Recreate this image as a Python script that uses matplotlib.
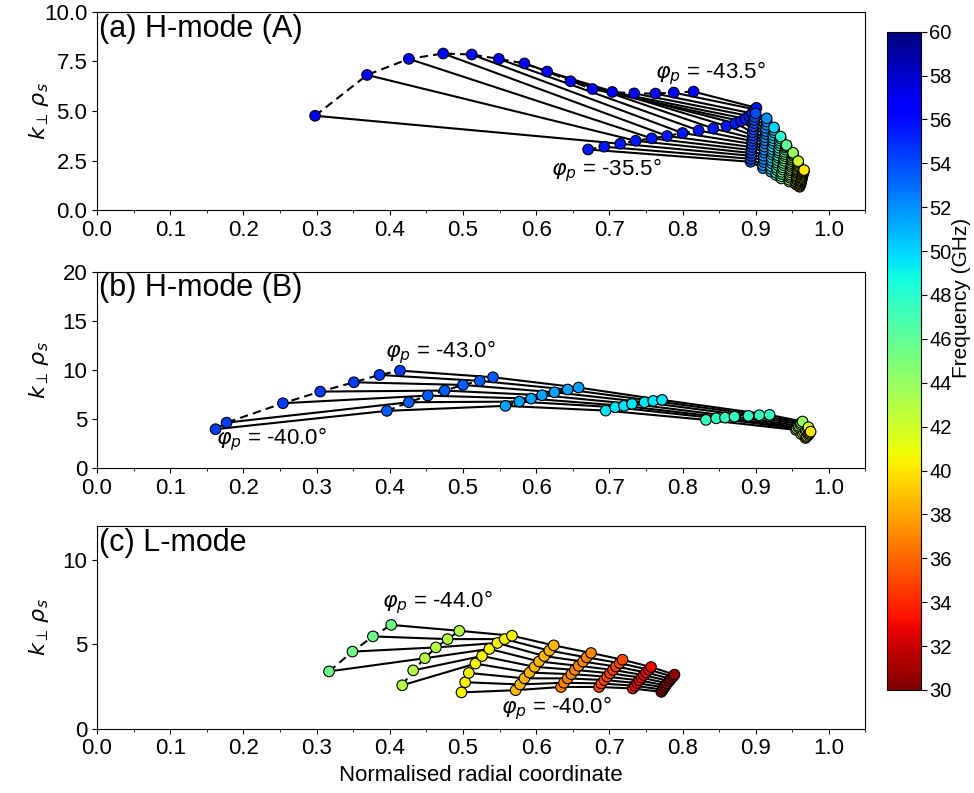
import numpy as np
import matplotlib
matplotlib.use("Agg")
import matplotlib.pyplot as plt
import matplotlib.ticker as ticker
from matplotlib import colors, cm

plt.rcParams.update({
    "font.family": ["Liberation Sans", "DejaVu Sans"],
    "font.size": 16,
    "mathtext.fontset": "dejavusans",
})

nan = np.nan

# ---------------- (a) H-mode (A) ----------------
# rows = probing frequency (GHz), columns = launch angle phi_p
ANGLES_A = [-35.5, -36.0, -36.5, -37.0, -37.5, -38.0, -38.5, -39.0, -39.5,
            -40.0, -40.5, -41.0, -41.5, -42.0, -42.5, -43.0, -43.5]
FREQ_A = [56.5, 55.5, 54, 52, 50, 48, 46, 44, 42, 40]
X_A = [
    [nan, nan, 0.298, 0.369, 0.426, 0.473, 0.512, 0.549, 0.584, 0.615, 0.647, 0.677, 0.704, 0.734, 0.763, 0.788, 0.815],
    [0.671, 0.693, 0.715, 0.736, 0.758, 0.779, 0.800, 0.822, 0.842, 0.860, 0.872, 0.880, 0.886, 0.891, 0.895, 0.899, 0.901],
    [0.893, 0.893, 0.894, 0.894, 0.894, 0.895, 0.895, 0.895, 0.896, 0.896, 0.896, 0.897, 0.897, 0.898, 0.898, 0.899, 0.900],
    [0.910, 0.910, 0.911, 0.911, 0.911, 0.912, 0.912, 0.912, 0.913, 0.913, 0.913, 0.914, 0.914, 0.914, 0.915, 0.915, 0.915],
    [0.921, 0.921, 0.921, 0.922, 0.922, 0.922, 0.923, 0.923, 0.923, 0.923, 0.924, 0.924, 0.924, 0.924, 0.925, 0.925, 0.925],
    [0.928, 0.928, 0.929, 0.929, 0.930, 0.930, 0.930, 0.931, 0.931, 0.932, 0.932, 0.932, 0.933, 0.933, 0.933, 0.934, 0.934],
    [0.935, 0.935, 0.936, 0.936, 0.937, 0.937, 0.938, 0.938, 0.939, 0.939, 0.940, 0.940, 0.940, 0.941, 0.941, 0.942, 0.942],
    [0.946, 0.946, 0.947, 0.947, 0.947, 0.948, 0.948, 0.948, 0.949, 0.949, 0.949, 0.950, 0.950, 0.950, 0.951, 0.951, 0.951],
    [0.955, 0.955, 0.955, 0.956, 0.956, 0.956, 0.956, 0.957, 0.957, 0.957, 0.957, 0.957, 0.958, 0.958, 0.958, 0.958, 0.958],
    [0.960, 0.960, 0.961, 0.961, 0.962, 0.962, 0.962, 0.963, 0.963, 0.963, 0.964, 0.964, 0.964, 0.965, 0.965, 0.966, 0.966],
]
Y_A = [
    [nan, nan, 4.76, 6.82, 7.63, 7.90, 7.85, 7.63, 7.40, 6.99, 6.50, 6.11, 5.96, 5.89, 5.88, 5.93, 5.98],
    [3.06, 3.20, 3.35, 3.50, 3.62, 3.74, 3.89, 4.02, 4.12, 4.24, 4.38, 4.49, 4.61, 4.75, 4.88, 5.08, 5.16],
    [2.44, 2.59, 2.74, 2.88, 3.03, 3.18, 3.34, 3.49, 3.63, 3.78, 3.93, 4.08, 4.23, 4.39, 4.54, 4.70, 4.88],
    [2.12, 2.27, 2.43, 2.58, 2.74, 2.90, 3.05, 3.21, 3.37, 3.52, 3.68, 3.84, 3.99, 4.15, 4.31, 4.47, 4.63],
    [1.94, 2.08, 2.22, 2.36, 2.50, 2.65, 2.79, 2.93, 3.07, 3.21, 3.36, 3.50, 3.64, 3.78, 3.92, 4.04, 4.17],
    [1.77, 1.89, 2.02, 2.14, 2.27, 2.39, 2.52, 2.64, 2.76, 2.89, 3.01, 3.14, 3.26, 3.39, 3.51, 3.61, 3.71],
    [1.60, 1.71, 1.82, 1.93, 2.05, 2.16, 2.27, 2.38, 2.49, 2.61, 2.72, 2.83, 2.94, 3.05, 3.16, 3.22, 3.28],
    [1.44, 1.53, 1.63, 1.72, 1.81, 1.90, 2.00, 2.09, 2.18, 2.27, 2.37, 2.46, 2.55, 2.65, 2.74, 2.82, 2.89],
    [1.30, 1.37, 1.45, 1.52, 1.59, 1.67, 1.74, 1.81, 1.89, 1.96, 2.03, 2.11, 2.18, 2.25, 2.33, 2.40, 2.47],
    [1.18, 1.23, 1.29, 1.34, 1.40, 1.45, 1.51, 1.56, 1.62, 1.67, 1.73, 1.78, 1.84, 1.89, 1.94, 1.98, 2.02],
]

# ---------------- (b) H-mode (B) ----------------
ANGLES_B = [-40.0, -40.5, -41.0, -41.5, -42.0, -42.5, -43.0]
FREQ_B = [54.5, 53.5, 51.5, 49.5, 47.5, 44, 42, 40]
X_B = [
    [0.162, 0.177, 0.254, 0.305, 0.351, 0.386, 0.414],
    [0.396, 0.426, 0.452, 0.475, 0.500, 0.523, 0.541],
    [0.558, 0.577, 0.593, 0.608, 0.625, 0.643, 0.658],
    [0.695, 0.708, 0.720, 0.731, 0.748, 0.760, 0.772],
    [0.832, 0.846, 0.858, 0.871, 0.890, 0.905, 0.919],
    [0.955, 0.956, 0.958, 0.959, 0.961, 0.962, 0.964],
    [0.962, 0.964, 0.966, 0.968, 0.969, 0.971, 0.972],
    [0.968, 0.969, 0.970, 0.972, 0.973, 0.974, 0.975],
]
Y_B = [
    [3.95, 4.62, 6.60, 7.79, 8.74, 9.49, 9.93],
    [5.82, 6.70, 7.38, 7.89, 8.47, 8.88, 9.25],
    [6.33, 6.77, 7.07, 7.42, 7.72, 8.00, 8.20],
    [5.85, 6.19, 6.33, 6.53, 6.70, 6.84, 6.94],
    [4.90, 5.06, 5.13, 5.23, 5.31, 5.38, 5.41],
    [3.88, 4.02, 4.16, 4.30, 4.45, 4.60, 4.73],
    [3.45, 3.56, 3.67, 3.80, 3.92, 4.03, 4.15],
    [3.05, 3.15, 3.26, 3.37, 3.48, 3.59, 3.70],
]

# ---------------- (c) L-mode ----------------
ANGLES_C = [-40.0, -40.5, -41.0, -41.5, -42.0, -42.5, -43.0, -43.5, -44.0]
FREQ_C = [45.5, 43, 40.5, 38.5, 37, 35, 33, 30.5]
X_C = [
    [nan, nan, nan, nan, nan, 0.317, 0.349, 0.377, 0.402],
    [nan, nan, nan, 0.417, 0.432, 0.448, 0.463, 0.479, 0.495],
    [0.498, 0.503, 0.508, 0.517, 0.526, 0.536, 0.547, 0.557, 0.567],
    [0.572, 0.578, 0.584, 0.591, 0.598, 0.604, 0.611, 0.618, 0.624],
    [0.634, 0.638, 0.643, 0.648, 0.653, 0.658, 0.664, 0.669, 0.675],
    [0.686, 0.689, 0.693, 0.697, 0.701, 0.705, 0.709, 0.714, 0.718],
    [0.732, 0.735, 0.738, 0.741, 0.744, 0.747, 0.750, 0.754, 0.757],
    [0.771, 0.773, 0.775, 0.777, 0.779, 0.782, 0.784, 0.787, 0.789],
]
Y_C = [
    [nan, nan, nan, nan, nan, 3.39, 4.56, 5.46, 6.14],
    [nan, nan, nan, 2.57, 3.45, 4.17, 4.81, 5.30, 5.79],
    [2.15, 2.75, 3.30, 3.85, 4.30, 4.72, 5.07, 5.30, 5.50],
    [2.28, 2.62, 2.98, 3.32, 3.66, 3.98, 4.30, 4.62, 4.93],
    [2.47, 2.72, 2.98, 3.23, 3.48, 3.72, 3.97, 4.22, 4.48],
    [2.47, 2.68, 2.88, 3.08, 3.28, 3.48, 3.68, 3.88, 4.08],
    [2.38, 2.54, 2.70, 2.86, 3.02, 3.17, 3.33, 3.49, 3.65],
    [2.18, 2.31, 2.44, 2.56, 2.69, 2.82, 2.95, 3.08, 3.20],
]

CMAP = plt.get_cmap("jet_r")
NORM = colors.Normalize(vmin=30, vmax=60)


def draw_panel(ax, freqs, xs, ys):
    xs = np.array(xs, dtype=float)
    ys = np.array(ys, dtype=float)
    f = np.array(freqs, dtype=float)
    # constant launch angle: solid line across frequencies
    for j in range(xs.shape[1]):
        ok = ~np.isnan(xs[:, j])
        ax.plot(xs[ok, j], ys[ok, j], color="black", lw=1.5, zorder=1)
    # constant frequency: dashed line across angles
    for i in range(xs.shape[0]):
        ok = ~np.isnan(xs[i])
        ax.plot(xs[i, ok], ys[i, ok], color="black", lw=1.5, ls=(0, (4, 2.5)), zorder=2)
    for j in range(xs.shape[1]):
        ok = ~np.isnan(xs[:, j])
        ax.scatter(xs[ok, j], ys[ok, j], c=f[ok], cmap=CMAP, norm=NORM,
                   s=58, edgecolors="black", linewidths=0.8, zorder=3)


fig = plt.figure(figsize=(9.74, 7.93), dpi=100)
ax_a = fig.add_axes([0.0996, 0.735, 0.789, 0.250])
ax_b = fig.add_axes([0.0996, 0.410, 0.789, 0.247])
ax_c = fig.add_axes([0.0996, 0.081, 0.789, 0.256])

draw_panel(ax_a, FREQ_A, X_A, Y_A)
draw_panel(ax_b, FREQ_B, X_B, Y_B)
draw_panel(ax_c, FREQ_C, X_C, Y_C)

ax_a.set_ylim(0, 10)
ax_a.yaxis.set_major_locator(ticker.MultipleLocator(2.5))
ax_a.yaxis.set_major_formatter(ticker.FormatStrFormatter("%.1f"))
ax_b.set_ylim(0, 20)
ax_b.yaxis.set_major_locator(ticker.MultipleLocator(5))
ax_c.set_ylim(0, 12)
ax_c.yaxis.set_major_locator(ticker.MultipleLocator(5))

titles = ["(a) H-mode (A)", "(b) H-mode (B)", "(c) L-mode"]
for ax, title in zip([ax_a, ax_b, ax_c], titles):
    ax.set_xlim(0, 1.05)
    ax.xaxis.set_major_locator(ticker.MultipleLocator(0.1))
    ax.xaxis.set_minor_locator(ticker.MultipleLocator(0.05))
    ax.xaxis.set_major_formatter(ticker.FormatStrFormatter("%.1f"))
    ax.tick_params(labelsize=16)
    ax.set_ylabel(r"$k_\perp\,\rho_s$", fontsize=16)
    ax.yaxis.set_label_coords(-0.06, 0.5)
    ax.text(0.003, 0.875, title, transform=ax.transAxes, fontsize=22,
            ha="left", va="baseline")

ax_c.set_xlabel("Normalised radial coordinate", fontsize=16)

lab = dict(fontsize=16, ha="left", va="center")
ax_a.text(0.763, 6.9, r"$\varphi_p$ = -43.5°", **lab)
ax_a.text(0.620, 2.0, r"$\varphi_p$ = -35.5°", **lab)
ax_b.text(0.393, 11.8, r"$\varphi_p$ = -43.0°", **lab)
ax_b.text(0.162, 2.9, r"$\varphi_p$ = -40.0°", **lab)
ax_c.text(0.389, 7.5, r"$\varphi_p$ = -44.0°", **lab)
ax_c.text(0.552, 1.2, r"$\varphi_p$ = -40.0°", **lab)

cax = fig.add_axes([0.911, 0.130, 0.035, 0.830])
sm = cm.ScalarMappable(norm=NORM, cmap=CMAP)
cb = fig.colorbar(sm, cax=cax, ticks=np.arange(30, 61, 2))
cb.ax.tick_params(labelsize=14.5, length=4, pad=1.5)
cb.set_label("Frequency (GHz)", fontsize=15)
cb.ax.yaxis.set_label_coords(1.9, 0.596)

fig.savefig("out.png", dpi=100)
